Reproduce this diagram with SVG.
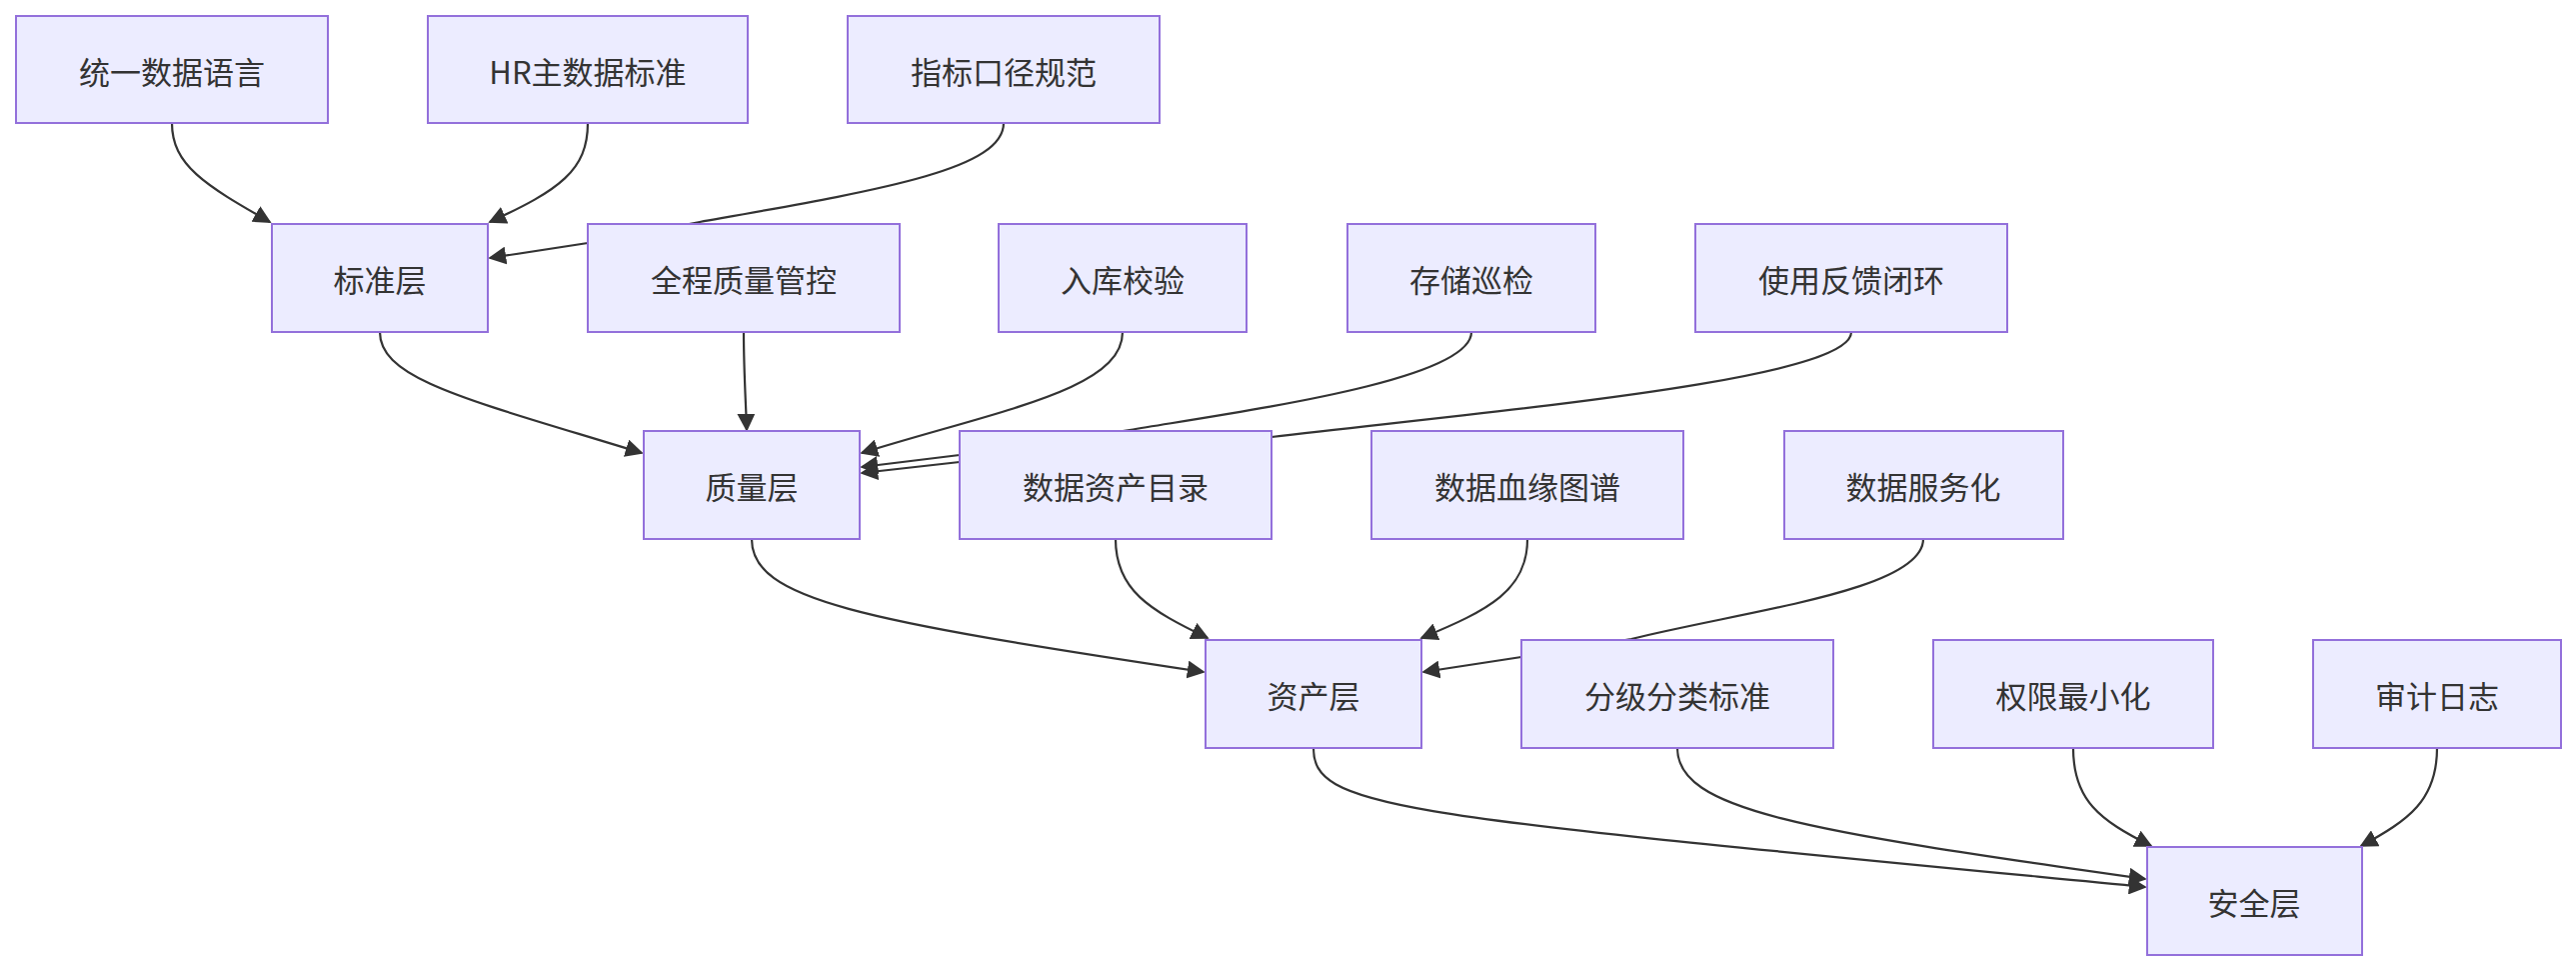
<svg xmlns="http://www.w3.org/2000/svg" width="2577" height="972" viewBox="0 0 2577 972">
<style>
.n rect{fill:#ECECFF;stroke:#9370DB;stroke-width:2}
.n text{font-family:"Noto Sans CJK SC","Liberation Sans",sans-serif;font-size:31px;fill:#333;text-anchor:middle;dominant-baseline:central}
.e path{fill:none;stroke:#333;stroke-width:2.2;marker-end:url(#ah)}
</style>
<defs><marker id="ah" viewBox="0 0 10 10" refX="9" refY="5" markerWidth="9" markerHeight="9" markerUnits="userSpaceOnUse" orient="auto"><path d="M0,0 L10,5 L0,10 z" fill="#333"/></marker>
<marker id="ahb" viewBox="0 0 10 10" refX="9" refY="5" markerWidth="18" markerHeight="18" markerUnits="userSpaceOnUse" orient="auto"><path d="M0,0 L10,5 L0,10 z" fill="#333"/></marker></defs>
<rect width="2577" height="972" fill="#fff"/>
<g class="e" id="edges" style="--m:url(#ahb)">
<path style="marker-end:url(#ahb)" d="M172,123 C172,165 205,185 270,222"/>
<path style="marker-end:url(#ahb)" d="M588,123 C588,170 560,190 490,222"/>
<path style="marker-end:url(#ahb)" d="M1004,123 C1004,170 880,190 700,222 L588,243 L490,258"/>
<path style="marker-end:url(#ahb)" d="M380,332 C380,380 470,400 642,453"/>
<path style="marker-end:url(#ahb)" d="M744,332 C744,370 746,400 747,430"/>
<path style="marker-end:url(#ahb)" d="M1123,332 C1123,390 1000,410 862,453"/>
<path style="marker-end:url(#ahb)" d="M1472,332 C1472,380 1250,410 1130,430 L960,455 L862,467"/>
<path style="marker-end:url(#ahb)" d="M1852,332 C1852,380 1500,410 1272,437 L960,462 L862,473"/>
<path style="marker-end:url(#ahb)" d="M752,539 C752,600 860,620 1204,672"/>
<path style="marker-end:url(#ahb)" d="M1116,539 C1116,590 1150,610 1208,638"/>
<path style="marker-end:url(#ahb)" d="M1528,539 C1528,590 1490,610 1422,638"/>
<path style="marker-end:url(#ahb)" d="M1924,539 C1924,590 1750,610 1632,639 L1522,657 L1424,672"/>
<path style="marker-end:url(#ahb)" d="M1314,748 C1314,810 1400,815 2146,887"/>
<path style="marker-end:url(#ahb)" d="M1678,748 C1678,810 1800,830 2146,879"/>
<path style="marker-end:url(#ahb)" d="M2074,748 C2074,800 2100,820 2152,846"/>
<path style="marker-end:url(#ahb)" d="M2438,748 C2438,800 2410,820 2362,846"/>
</g>
<g class="n" id="n1"><rect x="16" y="16" width="312" height="107"/><text x="172" y="70">统一数据语言</text></g>
<g class="n" id="n2"><rect x="428" y="16" width="320" height="107"/><text x="588" y="70">HR主数据标准</text></g>
<g class="n" id="n3"><rect x="848" y="16" width="312" height="107"/><text x="1004" y="70">指标口径规范</text></g>
<g class="n" id="n4"><rect x="272" y="224" width="216" height="108"/><text x="380" y="278">标准层</text></g>
<g class="n" id="n5"><rect x="588" y="224" width="312" height="108"/><text x="744" y="278">全程质量管控</text></g>
<g class="n" id="n6"><rect x="999" y="224" width="248" height="108"/><text x="1123" y="278">入库校验</text></g>
<g class="n" id="n7"><rect x="1348" y="224" width="248" height="108"/><text x="1472" y="278">存储巡检</text></g>
<g class="n" id="n8"><rect x="1696" y="224" width="312" height="108"/><text x="1852" y="278">使用反馈闭环</text></g>
<g class="n" id="n9"><rect x="644" y="431" width="216" height="108"/><text x="752" y="485">质量层</text></g>
<g class="n" id="n10"><rect x="960" y="431" width="312" height="108"/><text x="1116" y="485">数据资产目录</text></g>
<g class="n" id="n11"><rect x="1372" y="431" width="312" height="108"/><text x="1528" y="485">数据血缘图谱</text></g>
<g class="n" id="n12"><rect x="1785" y="431" width="279" height="108"/><text x="1924" y="485">数据服务化</text></g>
<g class="n" id="n13"><rect x="1206" y="640" width="216" height="108"/><text x="1314" y="694">资产层</text></g>
<g class="n" id="n14"><rect x="1522" y="640" width="312" height="108"/><text x="1678" y="694">分级分类标准</text></g>
<g class="n" id="n15"><rect x="1934" y="640" width="280" height="108"/><text x="2074" y="694">权限最小化</text></g>
<g class="n" id="n16"><rect x="2314" y="640" width="248" height="108"/><text x="2438" y="694">审计日志</text></g>
<g class="n" id="n17"><rect x="2148" y="847" width="215" height="108"/><text x="2255" y="901">安全层</text></g>
</svg>
